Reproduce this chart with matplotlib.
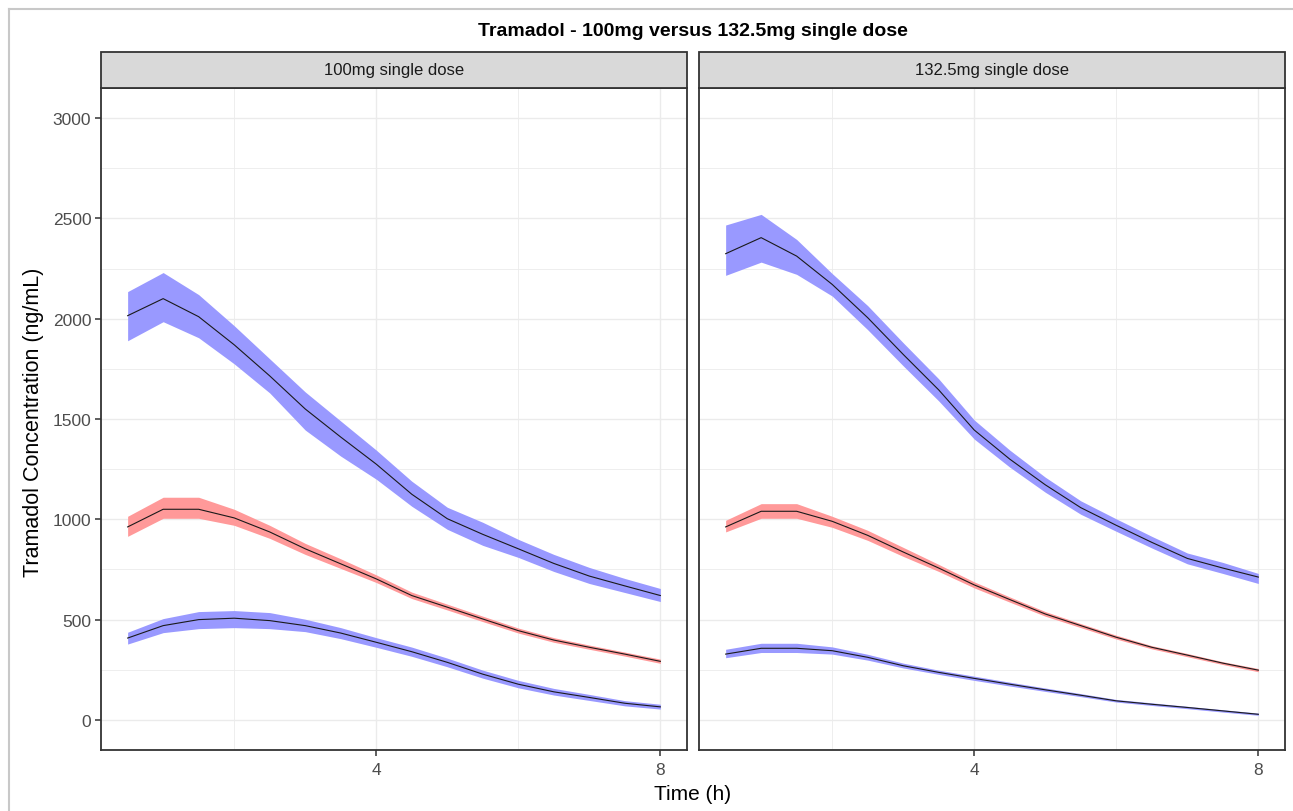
import matplotlib
matplotlib.use("Agg")
from matplotlib import pyplot as plt
from matplotlib.lines import Line2D
from matplotlib.patches import Rectangle

plt.rcParams['font.family'] = ['Liberation Sans', 'DejaVu Sans']

# time points (h)
time = [0.5, 1.0, 1.5, 2.0, 2.5, 3.0, 3.5, 4.0, 4.5, 5.0, 5.5, 6.0, 6.5, 7.0, 7.5, 8.0]

panel_titles = ["100mg single dose", "132.5mg single dose"]

# 100mg panel
p1_high_med = [2015, 2100, 2010, 1870, 1715, 1550, 1410, 1275, 1125, 1003, 925, 853, 780, 717, 668, 620]
p1_high_lo = [1890, 1985, 1905, 1775, 1630, 1445, 1315, 1200, 1065, 950, 870, 810, 740, 680, 635, 590]
p1_high_hi = [2135, 2230, 2120, 1965, 1800, 1635, 1490, 1345, 1190, 1060, 985, 900, 825, 760, 705, 655]
p1_mid_med = [962, 1050, 1050, 1007, 937, 853, 778, 703, 620, 562, 503, 445, 398, 362, 328, 292]
p1_mid_lo = [915, 1005, 1005, 970, 905, 825, 755, 685, 605, 548, 490, 433, 387, 352, 318, 282]
p1_mid_hi = [1015, 1110, 1110, 1050, 970, 880, 803, 723, 637, 577, 517, 458, 410, 373, 338, 303]
p1_low_med = [408, 470, 500, 507, 495, 470, 433, 387, 340, 287, 228, 178, 140, 112, 83, 65]
p1_low_lo = [378, 435, 455, 460, 455, 440, 405, 362, 317, 265, 208, 160, 124, 97, 70, 54]
p1_low_hi = [437, 505, 540, 545, 535, 502, 460, 410, 363, 308, 248, 197, 157, 127, 96, 78]

# 132.5mg panel
p2_high_med = [2324, 2404, 2312, 2171, 2005, 1822, 1645, 1445, 1300, 1172, 1058, 970, 885, 805, 757, 712]
p2_high_lo = [2216, 2282, 2221, 2113, 1945, 1765, 1590, 1400, 1260, 1135, 1025, 940, 857, 778, 730, 680]
p2_high_hi = [2467, 2520, 2395, 2225, 2065, 1880, 1700, 1495, 1345, 1210, 1092, 1002, 915, 832, 785, 730]
p2_mid_med = [962, 1040, 1040, 990, 920, 837, 757, 673, 600, 528, 470, 412, 362, 323, 283, 248]
p2_mid_lo = [937, 1005, 1005, 960, 895, 815, 740, 658, 587, 517, 460, 403, 354, 315, 276, 240]
p2_mid_hi = [995, 1078, 1078, 1015, 945, 860, 775, 688, 613, 540, 480, 422, 370, 331, 290, 256]
p2_low_med = [328, 357, 357, 345, 312, 270, 237, 207, 178, 150, 123, 95, 78, 62, 45, 28]
p2_low_lo = [310, 336, 336, 328, 298, 259, 227, 197, 169, 142, 116, 89, 72, 56, 39, 23]
p2_low_hi = [352, 382, 382, 364, 327, 283, 248, 218, 188, 159, 131, 102, 85, 68, 51, 34]

blue_fill = "#9999ff"
red_fill = "#ff9999"

panels = [
    [(p1_high_lo, p1_high_hi, p1_high_med, blue_fill),
     (p1_mid_lo, p1_mid_hi, p1_mid_med, red_fill),
     (p1_low_lo, p1_low_hi, p1_low_med, blue_fill)],
    [(p2_high_lo, p2_high_hi, p2_high_med, blue_fill),
     (p2_mid_lo, p2_mid_hi, p2_mid_med, red_fill),
     (p2_low_lo, p2_low_hi, p2_low_med, blue_fill)],
]

fig = plt.figure(figsize=(12.93, 8.12), dpi=100)

W, H = 1293.0, 812.0
panel_left = [101, 699]
panel_w = 586
panel_top = 89
panel_bottom = 751
strip_top = 53

axes = []
for i in range(2):
    ax = fig.add_axes([panel_left[i] / W, 1 - panel_bottom / H, panel_w / W, (panel_bottom - panel_top) / H])
    axes.append(ax)

    for lo, hi, med, col in panels[i]:
        ax.fill_between(time, lo, hi, color=col, linewidth=0, zorder=2)
        ax.plot(time, med, color="#1a1a1a", linewidth=0.8, zorder=3)

    ax.set_xlim(0.125, 8.375)
    ax.set_ylim(-150, 3150)
    ax.set_xticks([4, 8])
    ax.set_xticks([2, 6], minor=True)
    ax.set_yticks([0, 500, 1000, 1500, 2000, 2500, 3000])
    ax.set_yticks([250, 750, 1250, 1750, 2250, 2750], minor=True)
    ax.grid(which="major", color="#ebebeb", linewidth=1.0, zorder=0)
    ax.grid(which="minor", color="#ebebeb", linewidth=0.6, zorder=0)
    ax.set_axisbelow(True)
    for s in ax.spines.values():
        s.set_color("#333333")
        s.set_linewidth(1.3)
    ax.tick_params(which="major", length=4, width=1.1, color="#333333",
                   labelsize=12.5, labelcolor="#4d4d4d", pad=3)
    ax.tick_params(axis="x", which="major", pad=5)
    ax.tick_params(which="minor", length=0)
    if i == 1:
        ax.tick_params(axis="y", which="both", left=False, labelleft=False)

    # strip on top of the panel
    strip = Rectangle((panel_left[i] / W, 1 - panel_top / H), panel_w / W, (panel_top - strip_top) / H,
                      transform=fig.transFigure, facecolor="#d9d9d9", edgecolor="#333333",
                      linewidth=1.3, zorder=5)
    fig.add_artist(strip)
    fig.text((panel_left[i] + panel_w / 2) / W, 1 - (panel_top + strip_top) / 2 / H, panel_titles[i],
             ha="center", va="center", fontsize=12, color="#1a1a1a", zorder=6)

fig.text(693 / W, 1 - 32 / H, "Tramadol - 100mg versus 132.5mg single dose",
         ha="center", va="center", fontsize=14, fontweight="bold", color="black")
fig.text(693 / W, 1 - 795 / H, "Time (h)", ha="center", va="center", fontsize=15, color="black")
fig.text(34 / W, 1 - 422 / H, "Tramadol Concentration (ng/mL)", ha="center", va="center",
         rotation=90, fontsize=15.5, color="black")

# outer window frame
fig.add_artist(Line2D([9 / W, 1], [1 - 10 / H, 1 - 10 / H], transform=fig.transFigure,
                      color="#c8c8c8", linewidth=1.5))
fig.add_artist(Line2D([9 / W, 9 / W], [0, 1 - 10 / H], transform=fig.transFigure,
                      color="#c8c8c8", linewidth=1.5))

fig.savefig("out.png", dpi=100)
